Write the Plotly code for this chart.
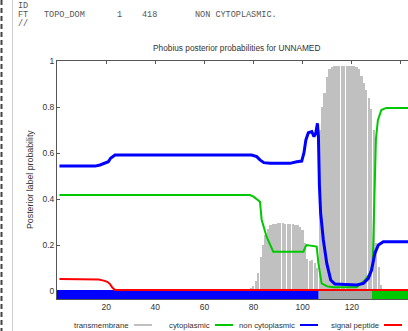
import plotly.graph_objects as go

# ---------------- data ----------------
residues = list(range(1, 144))
transmembrane = [
    0.004, 0.004, 0.004, 0.004, 0.004, 0.004, 0.004, 0.004, 0.004, 0.004,
    0.004, 0.004, 0.004, 0.004, 0.004, 0.004, 0.004, 0.004, 0.004, 0.004,
    0.004, 0.004, 0.004, 0.004, 0.004, 0.004, 0.004, 0.004, 0.004, 0.004,
    0.004, 0.004, 0.004, 0.004, 0.004, 0.004, 0.004, 0.004, 0.004, 0.004,
    0.004, 0.004, 0.004, 0.004, 0.004, 0.004, 0.004, 0.004, 0.004, 0.004,
    0.004, 0.004, 0.004, 0.004, 0.004, 0.004, 0.004, 0.004, 0.004, 0.004,
    0.004, 0.004, 0.004, 0.004, 0.004, 0.004, 0.004, 0.004, 0.004, 0.004,
    0.004, 0.004, 0.004, 0.004, 0.004, 0.004, 0.006, 0.010, 0.015, 0.020,
    0.045, 0.080, 0.150, 0.200, 0.245, 0.270, 0.285, 0.290, 0.293, 0.294,
    0.294, 0.294, 0.293, 0.292, 0.291, 0.290, 0.288, 0.286, 0.280, 0.265,
    0.210, 0.140, 0.130, 0.135, 0.120, 0.100, 0.700, 0.800, 0.860, 0.930,
    0.965, 0.975, 0.978, 0.978, 0.978, 0.978, 0.978, 0.978, 0.978, 0.978,
    0.978, 0.975, 0.965, 0.935, 0.905, 0.875, 0.840, 0.790, 0.700, 0.210,
    0.105, 0.026, 0.006, 0.004, 0.004, 0.004, 0.004, 0.004, 0.004, 0.004,
    0.004, 0.004, 0.004,
]

cyto_x = [1, 78.5, 80, 82.6, 83.3, 85.3, 88, 100.3, 101, 101.6, 105.7, 106.4,
          107.7, 110, 112.5, 122, 125.4, 127.4, 128.5, 129.0, 129.4, 129.8,
          130.6, 132, 134, 143]
cyto_y = [0.417, 0.417, 0.41, 0.388, 0.31, 0.236, 0.171, 0.171, 0.19, 0.2,
          0.193, 0.12, 0.033, 0.02, 0.016, 0.016, 0.048, 0.077, 0.12, 0.3,
          0.5, 0.66, 0.743, 0.787, 0.796, 0.796]

noncyto_x = [1, 15.5, 17.5, 19.5, 20.9, 21.8, 22.9, 23.6, 79.2, 81.3, 82.6,
             84.2, 86.7, 94.8, 97.6, 99.6, 100.5, 101.3, 102.3, 103.7, 104.6,
             105.3, 106.0, 106.4, 106.8, 107.3, 108.4, 109.8, 111.4, 113.1,
             122, 124.7, 126.7, 128, 129.4, 130.8, 132.8, 143]
noncyto_y = [0.543, 0.543, 0.548, 0.555, 0.562, 0.577, 0.587, 0.591, 0.591,
             0.584, 0.57, 0.558, 0.555, 0.555, 0.562, 0.565, 0.6, 0.657, 0.688,
             0.693, 0.671, 0.686, 0.729, 0.671, 0.46, 0.338, 0.222, 0.12,
             0.048, 0.03, 0.026, 0.033, 0.055, 0.09, 0.165, 0.2, 0.214, 0.214]

signal_x = [1, 13.5, 17, 19, 20.5, 21.6, 22.5, 23.6, 143]
signal_y = [0.052, 0.052, 0.05, 0.045, 0.04, 0.03, 0.015, 0.004, 0.004]

topo_start = [0, 106.5, 128.2]
topo_end = [106.5, 128.2, 145]
topo_label = ["non cytoplasmic", "transmembrane", "cytoplasmic"]

legend_labels = ["transmembrane", "cytoplasmic", "non cytoplasmic", "signal peptide"]
y_ticks = [0, 0.2, 0.4, 0.6, 0.8, 1]
x_ticks = [20, 40, 60, 80, 100, 120, 140]

header_id = "ID"
header_ft = ["FT", "TOPO_DOM", "1", "418", "NON CYTOPLASMIC."]
header_end = "//"
title_text = "Phobius posterior probabilities for UNNAMED"
y_title = "Posterior label probability"

# ---------------- styles ----------------
W, H = 408, 331
ML, MR, MT, MB = 57, 0, 61, 32
PW, PH = W - ML - MR, H - MT - MB
X_RANGE = [0, PW / 2.457]
Y_RANGE = [-(PH / 230.0 - 1.0), 1.0]

colors = {
    "transmembrane": "#c0c0c0",
    "cytoplasmic": "#00c800",
    "non cytoplasmic": "#0000ff",
    "signal peptide": "#ff0000",
}
band_colors = {
    "transmembrane": "#a6a6a6",
    "cytoplasmic": "#00c800",
    "non cytoplasmic": "#0000ff",
}
SANS = "Liberation Sans"
MONO = "Liberation Mono"
TXT = "#333333"


def pxx(p):
    return (p - ML) / PW


def pyy(p):
    return (MT + PH - p) / PH


fig = go.Figure()

fig.add_trace(go.Bar(
    x=residues, y=transmembrane, width=0.7,
    marker=dict(color=colors["transmembrane"], line=dict(width=0)),
    hoverinfo="skip",
))

band_y = -((294.5 - 291) / 230.0)
for s, e, lab in zip(topo_start, topo_end, topo_label):
    fig.add_trace(go.Scatter(
        x=[s, e], y=[band_y, band_y], mode="lines",
        line=dict(color=band_colors[lab], width=9), hoverinfo="skip",
    ))

fig.add_trace(go.Scatter(x=cyto_x, y=cyto_y, mode="lines",
                         line=dict(color=colors["cytoplasmic"], width=2)))
fig.add_trace(go.Scatter(x=noncyto_x, y=noncyto_y, mode="lines",
                         line=dict(color=colors["non cytoplasmic"], width=3)))
fig.add_trace(go.Scatter(x=signal_x, y=signal_y, mode="lines",
                         line=dict(color=colors["signal peptide"], width=2)))

annotations = []


def note(text, x, y, size, family=SANS, xanchor="left", color=TXT, angle=0):
    annotations.append(dict(
        text=text, x=pxx(x), y=pyy(y), xref="paper", yref="paper",
        xanchor=xanchor, yanchor="middle", showarrow=False, textangle=angle,
        font=dict(family=family, size=size, color=color),
    ))


# header text block
note(header_id, 16, 6, 8.5, MONO, color="#555555")
for txt, xp in zip(header_ft, [16, 41.7, 115, 140, 192.7]):
    note(txt, xp, 15, 8.5, MONO, color="#555555")
note(header_end, 16, 24, 8.5, MONO, color="#555555")

note(title_text, 236, 48, 8.3, xanchor="center")
note(y_title, 30, 180, 8.8, xanchor="center", angle=-90)

shapes = []
# page borders at the left
shapes.append(dict(type="line", xref="paper", yref="paper",
                   x0=pxx(1.5), x1=pxx(1.5), y0=pyy(0), y1=pyy(H),
                   line=dict(color="#444444", width=2, dash="5px,3px")))
shapes.append(dict(type="line", xref="paper", yref="paper",
                   x0=pxx(12.5), x1=pxx(12.5), y0=pyy(0), y1=pyy(H),
                   line=dict(color="#cccccc", width=1)))

# legend (text followed by line sample)
legend_text_end = [131, 212, 297, 381]
for lab, xe in zip(legend_labels, legend_text_end):
    note(lab, xe, 325, 7.8, xanchor="right")
    shapes.append(dict(type="line", xref="paper", yref="paper",
                       x0=pxx(xe + 3), x1=pxx(xe + 21), y0=pyy(325), y1=pyy(325),
                       line=dict(color=colors[lab], width=2)))

fig.update_layout(
    width=W, height=H,
    margin=dict(l=ML, r=MR, t=MT, b=MB, pad=0),
    paper_bgcolor="white", plot_bgcolor="white",
    showlegend=False, bargap=0,
    annotations=annotations, shapes=shapes,
    xaxis=dict(range=X_RANGE, tickvals=x_ticks, ticks="inside", ticklen=3,
               tickcolor="#555555", showline=True, linecolor="#555555",
               linewidth=1, mirror="ticks", showgrid=False, zeroline=False,
               layer="below traces",
               tickfont=dict(family=SANS, size=8.5, color=TXT)),
    yaxis=dict(range=Y_RANGE, tickvals=y_ticks, ticks="inside", ticklen=3,
               tickcolor="#555555", showline=True, linecolor="#555555",
               linewidth=1, mirror=False, showgrid=False, zeroline=False,
               layer="below traces",
               tickfont=dict(family=SANS, size=8.5, color=TXT)),
)

fig.write_html(
    "out.html",
    config={"displayModeBar": False},
    post_script="document.body.style.margin='0';document.body.style.overflow='hidden';",
)
